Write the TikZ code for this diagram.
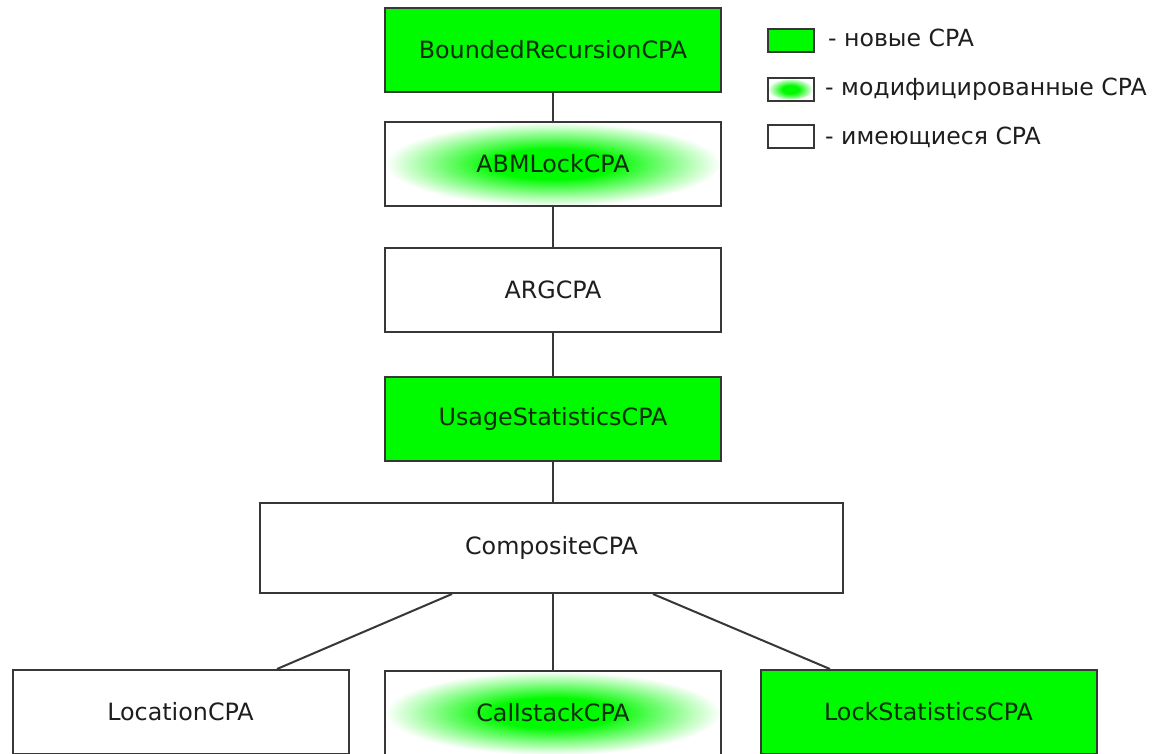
\documentclass[tikz,border=0pt]{standalone}
\usepackage{fontspec}
\setmainfont{DejaVu Sans}
\definecolor{newgreen}{RGB}{0,250,0}
\definecolor{edge}{RGB}{55,55,55}
\definecolor{ink}{RGB}{30,30,30}
\definecolor{inkgreen}{RGB}{10,45,10}
\pgfdeclareradialshading{glow}{\pgfpoint{0bp}{0bp}}{%
  color(0bp)=(newgreen); color(9bp)=(newgreen); color(25bp)=(white); color(50bp)=(white)}
\tikzset{
  cpa/.style={draw=edge, line width=2pt, minimum width=336pt, minimum height=84pt,
    inner sep=0pt, text=ink, font=\fontsize{23.8}{28}\selectfont},
  fresh/.style={cpa, fill=newgreen, text=inkgreen},
  changed/.style={cpa, text=inkgreen, path picture={
    \shade[shading=glow] (path picture bounding box.center) ellipse [x radius=166pt, y radius=42pt];}},
  link/.style={draw=edge, line width=2pt},
  keybox/.style={draw=edge, line width=2pt, minimum width=46pt, minimum height=23pt, inner sep=0pt},
  keytext/.style={anchor=west, inner sep=0pt, text=ink, font=\fontsize{23.6}{28}\selectfont}
}
\begin{document}
\begin{tikzpicture}[x=1pt,y=-1pt]
\useasboundingbox[fill=white] (0,0) rectangle (1153,753);

% stack of analyses
\node[fresh]   (bounded) at (553,50)  {BoundedRecursionCPA};
\node[changed] (abm)     at (553,164) {ABMLockCPA};
\node[cpa]     (arg)     at (553,290) {ARGCPA};
\node[fresh]   (usage)   at (553,419) {UsageStatisticsCPA};
\node[cpa, minimum width=583pt, minimum height=90pt] (comp) at (551.5,548) {CompositeCPA};

% components of the composite analysis
\node[cpa]     (loc)   at (180.5,712) {LocationCPA};
\node[changed] (call)  at (553,713)   {CallstackCPA};
\node[fresh]   (lock)  at (928.5,712) {LockStatisticsCPA};

% connectors
\draw[link] (bounded) -- (abm);
\draw[link] (abm) -- (arg);
\draw[link] (arg) -- (usage);
\draw[link] (usage.south) -- (comp.north -| usage.south);
\draw[link] ([xshift=-99.5pt]comp.south) -- ([xshift=96.5pt]loc.north);
\draw[link] (comp.south -| call.north) -- (call.north);
\draw[link] ([xshift=101.5pt]comp.south) -- ([xshift=-98.5pt]lock.north);

% legend
\node[keybox, fill=newgreen] (k1) at (790.5,40) {};
\node[keybox, path picture={
    \shade[shading=glow] (path picture bounding box.center) ellipse [x radius=22pt, y radius=10pt];}]
  (k2) at (790.5,89.5) {};
\node[keybox] (k3) at (790.5,136.5) {};
\node[keytext] (t1) at (828,38)  {- новые CPA};
\node[keytext] (t2) at (825,89)  {- модифицированные CPA};
\node[keytext] (t3) at (825,137) {- имеющиеся CPA};
\end{tikzpicture}
\end{document}
